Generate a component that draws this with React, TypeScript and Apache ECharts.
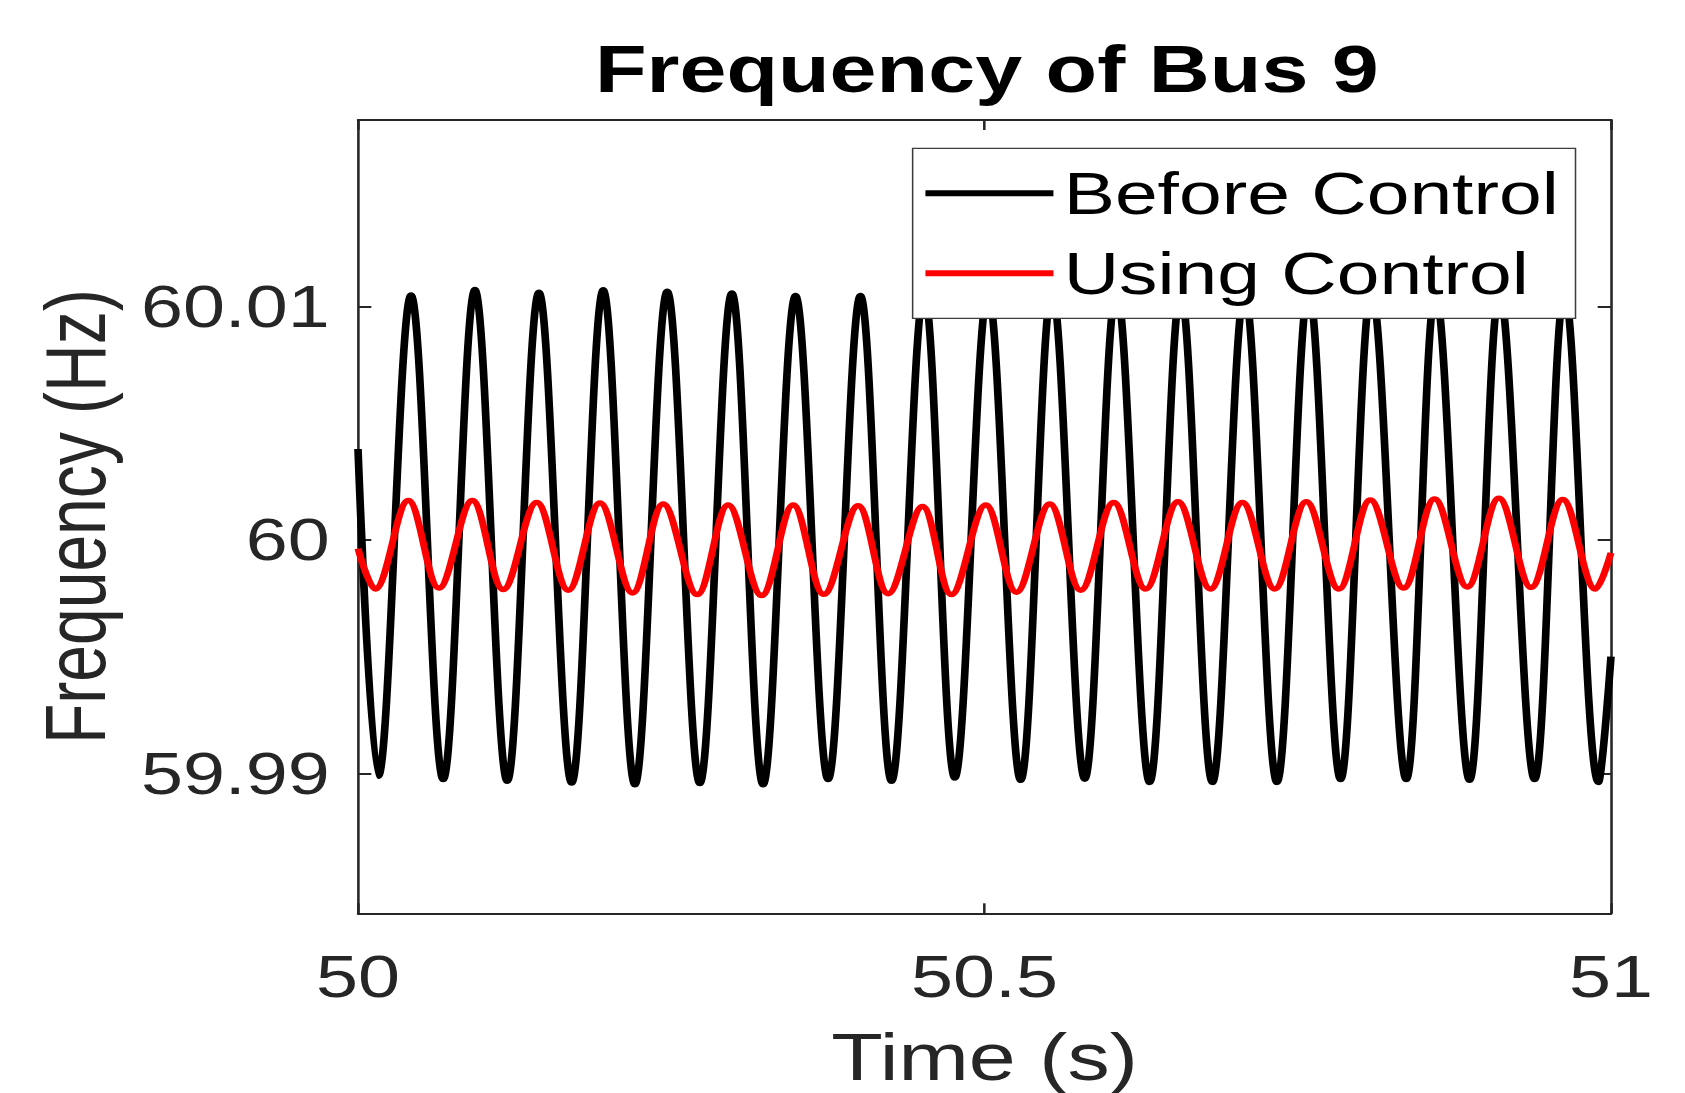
import { useEffect, useRef } from "react";
import * as echarts from "echarts";

// The reference figure is horizontally stretched; we draw at natural width and stretch the container.
const STRETCH = 1.28;
const FULL_W = 1685;
const FULL_H = 1093;
const W = FULL_W / STRETCH;

const titleText = "Frequency of Bus 9";
const xName = "Time (s)";
const yName = "Frequency (Hz)";
const seriesNames = ["Before Control", "Using Control"];

const xTicks = [50, 50.5, 51];
const yTicks = [59.99, 60, 60.01];

// Before Control: start, then alternating troughs / peaks, end
const beforeTime = [
  50.0, 50.0162, 50.0423, 50.068, 50.0933, 50.1191, 50.1444, 50.1705, 50.1957, 50.221,
  50.2468, 50.2728, 50.2984, 50.3233, 50.3492, 50.3752, 50.401, 50.4258, 50.4518, 50.4763,
  50.5028, 50.5289, 50.5539, 50.58, 50.6053, 50.6318, 50.6566, 50.6819, 50.7076, 50.7334,
  50.7587, 50.7842, 50.8089, 50.8366, 50.86, 50.8871, 50.9111, 50.939, 50.9629, 50.99, 51.0,
];
const beforeFreq = [
  60.0039, 59.98988, 60.01049, 59.98974, 60.01072, 59.98967, 60.01061, 59.98959, 60.01071, 59.98952,
  60.01065, 59.98957, 60.01058, 59.98952, 60.01047, 59.98974, 60.01047, 59.98967, 60.0106, 59.98981,
  60.0106, 59.98971, 60.0107, 59.98976, 60.0107, 59.98962, 60.0106, 59.98962, 60.0106, 59.98962,
  60.0107, 59.98974, 60.0107, 59.98974, 60.0106, 59.98971, 60.0106, 59.98974, 60.0106, 59.98962, 59.995,
];

// Using Control: start, then alternating troughs / peaks, end
const usingTime = [
  50.0, 50.0136, 50.0401, 50.0646, 50.0912, 50.1159, 50.1426, 50.1678, 50.1931, 50.2191,
  50.2436, 50.2707, 50.2954, 50.3221, 50.3473, 50.3718, 50.3991, 50.4231, 50.4505, 50.4736,
  50.501, 50.5255, 50.5521, 50.5768, 50.6031, 50.6286, 50.6544, 50.6803, 50.7058, 50.7316,
  50.7568, 50.7828, 50.8079, 50.8345, 50.8592, 50.8853, 50.9105, 50.9363, 50.9615, 50.9876, 51.0,
];
const usingFreq = [
  59.99963, 59.9979, 60.00169, 59.99794, 60.00169, 59.99788, 60.00161, 59.99785, 60.00158, 59.99773,
  60.00154, 59.99766, 60.0015, 59.99762, 60.0015, 59.99767, 60.00147, 59.9977, 60.00144, 59.99766,
  60.0015, 59.99776, 60.00154, 59.99785, 60.00161, 59.9979, 60.00164, 59.9979, 60.00161, 59.9979,
  60.00164, 59.9979, 60.00171, 59.99794, 60.00176, 59.99799, 60.00179, 59.99797, 60.00173, 59.9979, 59.99945,
];

const FONT = "'Liberation Sans', Arial, Helvetica, sans-serif";
const AXIS_COLOR = "#262626";

export default function App() {
  const ref = useRef<HTMLDivElement>(null);

  useEffect(() => {
    document.body.style.margin = "0";
    document.body.style.overflow = "hidden";
    const chart = echarts.init(ref.current!, null, { renderer: "svg" });

    const beforeData = beforeTime.map((t, i) => [t, beforeFreq[i]]);
    const usingData = usingTime.map((t, i) => [t, usingFreq[i]]);

    const plotLeft = 358 / STRETCH;
    const plotRight = 1611.5 / STRETCH;
    const plotTop = 120;
    const plotBottom = 913.3;

    const lineStyleAxis = { color: AXIS_COLOR, width: 2 };

    chart.setOption({
      animation: false,
      backgroundColor: "#ffffff",
      textStyle: { fontFamily: FONT },
      title: {
        text: titleText,
        left: 771,
        top: 36.4,
        padding: 0,
        textAlign: "center",
        textStyle: { fontFamily: FONT, fontSize: 66, fontWeight: "bold", color: "#000000" },
      },
      legend: {
        data: seriesNames,
        orient: "vertical",
        left: 713,
        top: 148.3,
        icon: "rect",
        itemWidth: 100,
        itemHeight: 6,
        itemGap: 20,
        padding: [15, 13, 15, 10],
        borderColor: "#3c3c3c",
        borderWidth: 1.2,
        backgroundColor: "#ffffff",
        selectedMode: false,
        itemStyle: { borderWidth: 0 },
        textStyle: { fontFamily: FONT, fontSize: 60, color: "#000000", padding: [0, 0, 0, 3] },
      },
      grid: {
        left: plotLeft,
        right: W - plotRight,
        top: plotTop,
        bottom: FULL_H - plotBottom,
        containLabel: false,
        outerBoundsMode: "none",
      },
      xAxis: [
        {
          type: "value",
          position: "bottom",
          min: xTicks[0],
          max: xTicks[xTicks.length - 1],
          interval: xTicks[1] - xTicks[0],
          name: xName,
          nameLocation: "middle",
          nameGap: 111,
          nameTextStyle: { fontFamily: FONT, fontSize: 66, color: AXIS_COLOR },
          axisLine: { show: true, onZero: false, lineStyle: lineStyleAxis },
          axisTick: { show: true, inside: true, length: 10, lineStyle: lineStyleAxis },
          axisLabel: {
            show: true,
            margin: 33.5,
            fontFamily: FONT,
            fontSize: 59,
            color: AXIS_COLOR,
            showMinLabel: true,
            showMaxLabel: true,
            formatter: (v: number) => String(Number(v.toFixed(1))),
          },
          splitLine: { show: false },
        },
        {
          type: "value",
          position: "top",
          min: xTicks[0],
          max: xTicks[xTicks.length - 1],
          interval: xTicks[1] - xTicks[0],
          axisLine: { show: true, onZero: false, lineStyle: lineStyleAxis },
          axisTick: { show: true, inside: true, length: 10, lineStyle: lineStyleAxis },
          axisLabel: { show: false },
          splitLine: { show: false },
        },
      ],
      yAxis: [
        {
          type: "value",
          position: "left",
          min: 59.984,
          max: 60.018,
          name: yName,
          nameLocation: "middle",
          nameGap: 188,
          nameTextStyle: { fontFamily: FONT, fontSize: 66, color: AXIS_COLOR },
          axisLine: { show: true, onZero: false, lineStyle: lineStyleAxis },
          axisTick: { show: true, inside: true, length: 10.4, lineStyle: lineStyleAxis, customValues: yTicks },
          axisLabel: {
            show: true,
            margin: 22,
            fontFamily: FONT,
            fontSize: 59,
            color: AXIS_COLOR,
            customValues: yTicks,
            formatter: (v: number) => String(Number(v.toFixed(2))),
          },
          splitLine: { show: false },
        },
        {
          type: "value",
          position: "right",
          min: 59.984,
          max: 60.018,
          axisLine: { show: true, onZero: false, lineStyle: lineStyleAxis },
          axisTick: { show: true, inside: true, length: 10.4, lineStyle: lineStyleAxis, customValues: yTicks },
          axisLabel: { show: false },
          splitLine: { show: false },
        },
      ],
      series: [
        {
          name: seriesNames[0],
          type: "line",
          xAxisIndex: 0,
          yAxisIndex: 0,
          data: beforeData,
          symbol: "none",
          smooth: 0.36,
          color: "#000000",
          lineStyle: { color: "#000000", width: 6 },
          z: 2,
        },
        {
          name: seriesNames[1],
          type: "line",
          xAxisIndex: 0,
          yAxisIndex: 0,
          data: usingData,
          symbol: "none",
          smooth: 0.36,
          color: "#ff0000",
          lineStyle: { color: "#ff0000", width: 5.5 },
          z: 3,
        },
      ],
    });

    return () => chart.dispose();
  }, []);

  return (
    <div
      ref={ref}
      style={{
        position: "absolute",
        left: 0,
        top: 0,
        width: `${W}px`,
        height: `${FULL_H}px`,
        transform: `scaleX(${STRETCH})`,
        transformOrigin: "0 0",
      }}
    />
  );
}
